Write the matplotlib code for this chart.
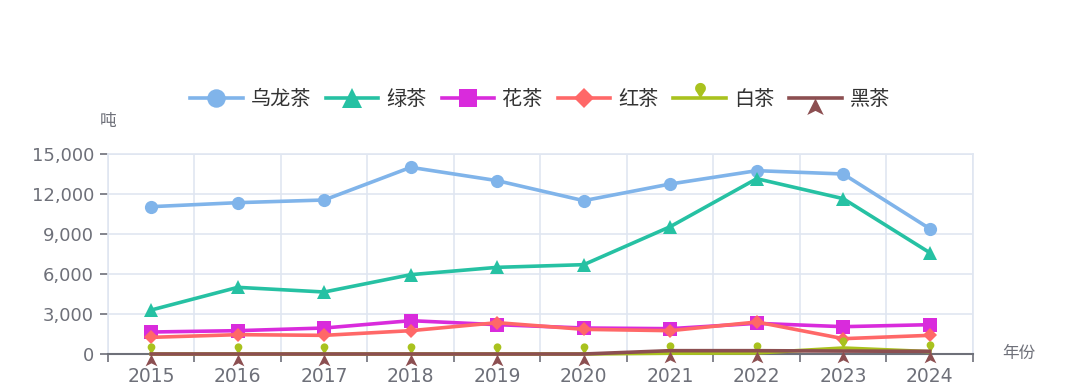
import matplotlib
matplotlib.use("Agg")
import matplotlib.pyplot as plt
from matplotlib.path import Path
from matplotlib.ticker import FixedLocator, FuncFormatter
import numpy as np

plt.rcParams['font.family'] = ['Noto Sans CJK SC', 'DejaVu Sans']

years = ['2015', '2016', '2017', '2018', '2019', '2020', '2021', '2022', '2023', '2024']
oolong = [11050, 11350, 11550, 14000, 13000, 11500, 12750, 13750, 13500, 9400]
green = [3300, 5000, 4650, 5950, 6500, 6700, 9550, 13150, 11650, 7600]
flower = [1650, 1750, 1950, 2500, 2200, 1950, 1900, 2300, 2050, 2200]
black = [1250, 1450, 1400, 1750, 2350, 1850, 1750, 2400, 1150, 1400]
white = [0, 0, 0, 0, 0, 0, 60, 80, 450, 180]
dark = [0, 0, 0, 0, 0, 0, 250, 250, 220, 200]
names = ['乌龙茶', '绿茶', '花茶', '红茶', '白茶', '黑茶']
yticks = [0, 3000, 6000, 9000, 12000, 15000]

colors = ['#80b4ea', '#26c1a3', '#d92bdc', '#ff6868', '#a9c21e', '#8c4f51']

# custom markers: echarts-like "pin" and "arrow"
theta = np.linspace(-0.25 * np.pi, 1.25 * np.pi, 30)
cx, cy, r = 0.0, 1.5, 0.8
pin_verts = [(0, 0)] + [(cx + r * np.cos(t), cy + r * np.sin(t)) for t in theta] + [(0, 0)]
pin_path = Path(pin_verts, [Path.MOVETO] + [Path.LINETO] * (len(pin_verts) - 2) + [Path.CLOSEPOLY])

arrow_verts = [(0, 0), (1.0, -2.0), (0, -1.5), (-1.0, -2.0), (0, 0)]
arrow_path = Path(arrow_verts, [Path.MOVETO, Path.LINETO, Path.LINETO, Path.LINETO, Path.CLOSEPOLY])

fig = plt.figure(figsize=(10.8, 3.85), dpi=100)
ax = fig.add_axes([0.1, 0.0805, 0.8009, 0.5195])

x = np.arange(len(years))
series = [oolong, green, flower, black, white, dark]
markers = ['o', '^', 's', 'D', pin_path, arrow_path]
msizes = [9.5, 10, 9.5, 7, 16, 17]

handles = []
for i, (s, m, ms) in enumerate(zip(series, markers, msizes)):
    h, = ax.plot(x, s, color=colors[i], lw=2.6, marker=m, markersize=ms,
                 markeredgewidth=0, label=names[i], clip_on=False, zorder=3 + i * 0.1)
    handles.append(h)

ax.set_xlim(-0.5, 9.5)
ax.set_ylim(0, 15000)
ax.set_xticks(x)
ax.set_xticklabels(years, family='DejaVu Sans')
ax.xaxis.set_minor_locator(FixedLocator(np.arange(-0.5, 10, 1)))
ax.tick_params(axis='x', which='major', length=0, pad=9, labelsize=13.5, labelcolor='#6e7079')
ax.tick_params(axis='x', which='minor', length=6, width=1.2, color='#6e7079')
ax.set_yticks(yticks)
ax.yaxis.set_major_formatter(FuncFormatter(lambda v, p: f'{int(v):,}'))
for lab in ax.get_yticklabels():
    lab.set_family('DejaVu Sans')
ax.tick_params(axis='y', length=6, width=1.2, color='#6e7079', pad=4, labelsize=13, labelcolor='#6e7079')

ax.grid(True, which='major', axis='y', color='#e0e6f1', lw=1.2)
ax.grid(True, which='minor', axis='x', color='#e0e6f1', lw=1.2)
ax.set_axisbelow(True)
for sp in ['top', 'right', 'left']:
    ax.spines[sp].set_color('#e0e6f1')
    ax.spines[sp].set_linewidth(1.2)
ax.spines['bottom'].set_color('#6e7079')
ax.spines['bottom'].set_linewidth(1.5)
ax.spines['bottom'].set_zorder(2.5)

fig.text(0.1, 0.685, '吨', fontsize=12, color='#6e7079', ha='center', va='center')
fig.text(0.943, 0.083, '年份', fontsize=12, color='#6e7079', ha='center', va='center')

leg = fig.legend(handles=handles, loc='center', bbox_to_anchor=(0.5, 0.742), ncol=6,
                 frameon=False, fontsize=14.5, handlelength=2.6, handletextpad=0.4,
                 columnspacing=0.75, labelcolor='#333333', markerscale=1.4)

fig.savefig('out.png', dpi=100)
